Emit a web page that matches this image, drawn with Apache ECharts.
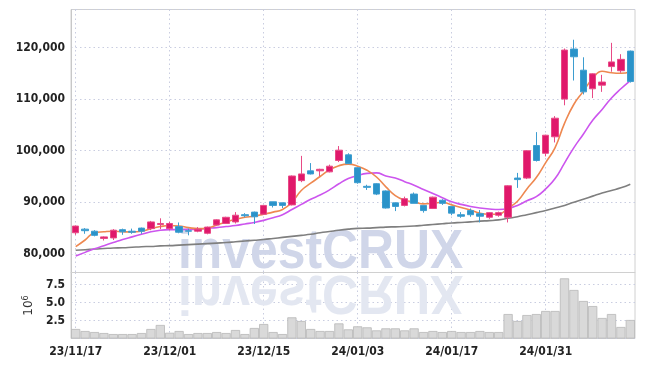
<!DOCTYPE html>
<html><head><meta charset="utf-8">
<script src="https://cdn.jsdelivr.net/npm/echarts@6/dist/echarts.min.js"></script>
<style>html,body{margin:0;padding:0;background:#fff}#c{width:645px;height:366px}</style>
</head><body><div id="c"></div>
<script>
const dates = ['23/11/17','23/11/20','23/11/21','23/11/22','23/11/23','23/11/24','23/11/27','23/11/28','23/11/29','23/11/30',
 '23/12/01','23/12/04','23/12/05','23/12/06','23/12/07','23/12/08','23/12/11','23/12/12','23/12/13','23/12/14',
 '23/12/15','23/12/18','23/12/19','23/12/20','23/12/21','23/12/22','23/12/26','23/12/27','23/12/28','24/01/02',
 '24/01/03','24/01/04','24/01/05','24/01/08','24/01/09','24/01/10','24/01/11','24/01/12','24/01/15','24/01/16',
 '24/01/17','24/01/18','24/01/19','24/01/22','24/01/23','24/01/24','24/01/25','24/01/26','24/01/29','24/01/30',
 '24/01/31','24/02/01','24/02/02','24/02/05','24/02/06','24/02/07','24/02/08','24/02/13','24/02/14','24/02/15'];
const opens  = [84100,84800,84400,83000,83100,84700,84400,85000,84900,85700,
 84900,85300,84500,84400,84000,85600,85900,86200,87600,88100,
 87700,90100,89900,89500,94200,96100,96100,95900,98100,99200,
 96700,93100,93600,92200,89900,89400,91600,89400,88800,90400,
 89200,87600,88400,87800,87100,87500,87100,94700,94700,101000,
 99500,102700,110000,119700,115600,112000,112700,116300,115500,119300];
const closes = [85400,84500,83600,83300,84600,84300,84200,84400,86200,85900,
 85900,84200,84400,84800,85200,86600,87100,87500,87400,87200,
 89400,89400,89400,95100,95500,95500,96400,97000,100100,97500,
 93800,92900,91600,88900,89200,90700,89800,88400,91000,89800,
 87900,87300,87600,87300,88000,88000,93200,94400,100000,98100,
 103000,106300,119500,118200,111400,114900,113300,117200,117700,113400];
const lows   = [83700,83900,83400,82600,82700,83700,83900,83900,84600,84800,
 84600,84000,83600,84200,83800,85500,85800,85900,87100,85800,
 87600,89000,88900,89400,93900,95400,95100,95800,97800,97400,
 93600,92400,91400,88800,88300,89200,89800,88000,88700,89500,
 87500,87000,87200,86100,86800,87200,86100,92800,94500,97900,
 98900,101600,108800,113600,110900,110200,111400,115300,115100,113200];
const highs  = [85500,85000,84600,83400,84800,84900,84900,85100,86400,86900,
 86200,86100,84900,85200,85300,86700,87200,88100,87900,88200,
 89500,90100,89900,95200,99000,97600,96500,97300,100900,99500,
 96800,93400,93700,92300,89900,91100,91900,89400,91100,90600,
 89200,88100,88800,88500,88100,88200,93300,95700,100100,103600,
 103100,106700,119800,121500,118100,115000,114700,120900,118700,119400];
// volume in millions of shares
const volumes = [1.32,1.04,0.90,0.76,0.62,0.62,0.62,0.76,1.32,1.88,
 0.80,1.04,0.62,0.76,0.76,0.90,0.76,1.18,0.62,1.46,
 2.01,0.90,0.62,2.94,2.43,1.32,1.04,1.04,2.10,1.27,
 1.69,1.55,1.13,1.41,1.41,1.13,1.41,0.90,1.04,0.90,
 1.04,0.90,0.90,1.04,0.90,0.90,3.40,2.43,3.26,3.40,
 3.82,3.82,8.36,6.74,5.21,4.51,2.85,3.40,1.60,2.57];
const ma5 = [81400,82700,84100,84300,84400,84300,84250,84400,84900,85300,
 85500,85400,85100,84900,85000,85600,86200,86700,87100,87300,
 87700,88100,88600,90000,92300,93700,95000,96300,97100,97400,
 97000,96200,94900,93000,91300,90400,90100,89700,89800,90000,
 89500,89000,88500,87900,87700,87700,88900,90200,92600,94800,
 97700,100600,105300,109000,111500,114000,115400,115100,115000,115300];
const ma10 = [79600,80300,81000,81600,82200,82800,83300,83800,84300,84600,
 84700,84700,84750,84800,84950,85100,85300,85500,85800,86100,
 86500,87000,87600,88600,89600,90600,91400,92400,93600,94600,
 95200,95600,95700,95100,94700,94000,93300,92500,91700,90900,
 90100,89600,89200,88900,88700,88600,88800,89400,90300,91100,
 92600,94600,97600,100600,103200,105900,108000,110200,112000,113600];
const ma60 = [80700,80800,80950,81050,81150,81200,81300,81400,81450,81550,
 81600,81700,81800,81900,82000,82100,82200,82350,82500,82650,
 82800,83000,83200,83400,83600,83800,84100,84350,84600,84800,
 84950,85000,85100,85200,85250,85300,85400,85550,85700,85850,
 86000,86100,86200,86350,86450,86600,86900,87200,87600,88000,
 88400,88900,89400,90000,90600,91200,91800,92300,92800,93500];

// pick a condensed bold font that is installed
const ctx = document.createElement('canvas').getContext('2d');
function w(font, t){ ctx.font = font; return ctx.measureText(t).width; }
const candidates = ['Liberation Sans Narrow','Arial Narrow','DejaVu Sans Condensed','Roboto'];
let fam = 'DejaVu Sans Condensed';
for (const c of candidates) {
  const a = w('bold 14px "' + c + '", monospace', '23/11/17 120,000');
  const b = w('bold 14px monospace', '23/11/17 120,000');
  const a2 = w('bold 14px "' + c + '", serif', '23/11/17 120,000');
  const b2 = w('bold 14px serif', '23/11/17 120,000');
  if (Math.abs(a - b) > 0.5 || Math.abs(a2 - b2) > 0.5) { fam = c; break; }
}
const labelSize = /Narrow/.test(fam) ? 14 : 12;
const F = '"' + fam + '", sans-serif';

const gridColor = '#c9cde0';
const candles = dates.map((d,i)=>[opens[i],closes[i],lows[i],highs[i]]);
const fmt = v => String(Math.round(v)).replace(/\B(?=(\d{3})+(?!\d))/g, ',');

const chart = echarts.init(document.getElementById('c'), null, {renderer:'canvas'});
chart.setOption({
  animation:false,
  backgroundColor:'#fff',
  grid:[
    {left:71, right:10, top:9.5, height:263, show:true, borderColor:'#d0d0d0', borderWidth:1},
    {left:71, right:10, top:272.5, height:66, show:true, borderColor:'#d0d0d0', borderWidth:1}
  ],
  xAxis:[
    {type:'category', gridIndex:0, data:dates, boundaryGap:true,
     axisLine:{show:true, lineStyle:{color:'#d0d0d0'}}, axisTick:{show:false}, axisLabel:{show:false},
     splitLine:{show:true, interval:9, alignWithLabel:true, lineStyle:{color:gridColor, type:[1.5,3]}}},
    {type:'category', gridIndex:1, data:dates, boundaryGap:true,
     axisLine:{show:false}, axisTick:{show:false},
     axisLabel:{show:true, interval:9, color:'#222', fontFamily:F, fontWeight:'bold', fontSize:labelSize, margin:7},
     splitLine:{show:true, interval:9, alignWithLabel:true, lineStyle:{color:gridColor, type:[1.5,3]}}}
  ],
  yAxis:[
    {type:'value', gridIndex:0, min:76400, max:127360, splitNumber:5, scale:true,
     axisLine:{show:true, lineStyle:{color:'#c8c8c8'}}, axisTick:{show:false},
     axisLabel:{color:'#222', fontFamily:F, fontWeight:'bold', fontSize:labelSize, margin:6, showMinLabel:false, showMaxLabel:false, formatter:fmt},
     splitLine:{show:true, lineStyle:{color:gridColor, type:[1.5,3]}}},
    {type:'value', gridIndex:1, min:0, max:9.17, interval:2.5,
     axisLine:{show:true, lineStyle:{color:'#c8c8c8'}}, axisTick:{show:false},
     axisLabel:{color:'#222', fontFamily:F, fontWeight:'bold', fontSize:labelSize, margin:6, showMinLabel:false, showMaxLabel:false, formatter:v=>v.toFixed(1)},
     splitLine:{show:true, lineStyle:{color:gridColor, type:[1.5,3]}},
     name:'{a|10}{b|6}', nameLocation:'middle', nameRotate:90, nameGap:31,
     nameTextStyle:{rich:{a:{fontFamily:'DejaVu Sans', fontSize:12, color:'#333'}, b:{fontFamily:'DejaVu Sans', fontSize:8, color:'#333', verticalAlign:'top', padding:[0,0,6,0]}}}}
  ],
  graphic:[
    {type:'text', x:178, y:272, scaleX:0.89, scaleY:1, z:1, silent:true,
     style:{text:'investCRUX', x:0, y:8.4, font:'bold 56px "Liberation Sans", Arial, sans-serif', fill:'#d0d6e9', verticalAlign:'bottom'}},
    {type:'text', x:178, y:272, scaleX:0.89, scaleY:-1, z:1, silent:true,
     style:{text:'investCRUX', x:0, y:8.4, font:'bold 56px "Liberation Sans", Arial, sans-serif', fill:'#e3e7f1', verticalAlign:'bottom'}}
  ],
  series:[
    {type:'bar', xAxisIndex:1, yAxisIndex:1, data:volumes, barWidth:'98%', z:3,
     itemStyle:{color:'#d9d9d9', borderColor:'#b8b8b8', borderWidth:0.8}},
    {type:'line', xAxisIndex:0, yAxisIndex:0, data:ma60, smooth:true, showSymbol:false, z:4,
     lineStyle:{color:'#7f7f7f', width:1.6}},
    {type:'line', xAxisIndex:0, yAxisIndex:0, data:ma10, smooth:true, showSymbol:false, z:4,
     lineStyle:{color:'#cc55ee', width:1.6}},
    {type:'line', xAxisIndex:0, yAxisIndex:0, data:ma5, smooth:true, showSymbol:false, z:4,
     lineStyle:{color:'#ee8850', width:1.6}},
    {type:'candlestick', xAxisIndex:0, yAxisIndex:0, data:candles, barWidth:7, z:5,
     itemStyle:{color:'#e0186b', color0:'#2a93c9', borderColor:'#e84a86', borderColor0:'#3d9dd0', borderWidth:1}}
  ]
});
</script></body></html>
